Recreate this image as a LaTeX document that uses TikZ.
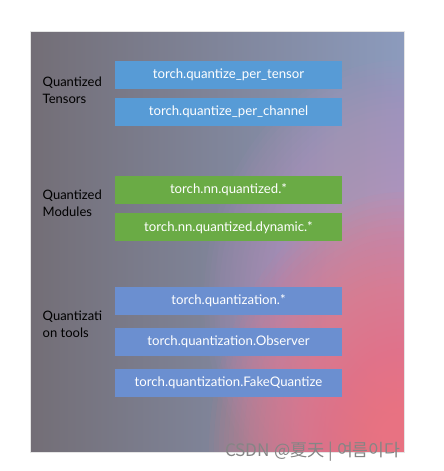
\documentclass[tikz,border=0pt]{standalone}
\usepackage{fontspec}
\setmainfont{Lato}
\newfontfamily\cjkfont{Noto Sans CJK SC}
\definecolor{bgLeft}{HTML}{736E76}
\definecolor{bgRight}{HTML}{8C9BBD}
\definecolor{glowPurple}{HTML}{C293C6}
\definecolor{glowPink}{HTML}{FA7282}
\definecolor{boxBlue}{HTML}{579BD6}
\definecolor{boxGreen}{HTML}{6AAB45}
\definecolor{boxTool}{HTML}{6B8FD0}
\definecolor{wmGray}{HTML}{858585}
\tikzset{
  fnbox/.style={minimum width=227pt, minimum height=28.5pt, inner sep=0pt,
    text=white, font=\fontsize{13.2}{15}\selectfont},
  tensorbox/.style={fnbox, fill=boxBlue},
  modulebox/.style={fnbox, fill=boxGreen},
  toolbox/.style={fnbox, fill=boxTool},
  grouplabel/.style={anchor=west, align=left, inner sep=0pt, text=black,
    font=\fontsize{13}{17.3}\selectfont}
}
\begin{document}
\begin{tikzpicture}[x=1pt,y=-1pt]
\useasboundingbox (0,0) rectangle (444,471);
\fill[white] (0,0) rectangle (444,471);
% background panel
\shade[left color=bgLeft, right color=bgRight] (30,31) rectangle (404,452);
\begin{scope}
  \clip (30,31) rectangle (404,452);
  \foreach \k in {1,...,40}{
    \fill[glowPurple, opacity=0.055] (404,300) ellipse [x radius={200*\k/40}, y radius={240*\k/40}];
  }
  \foreach \k in {1,...,40}{
    \fill[glowPink, opacity=0.055] (404,452) ellipse [x radius={195*\k/40}, y radius={260*\k/40}];
  }
\end{scope}
\draw[white!80!gray, line width=0.6pt] (30,31) rectangle (404,452);
% group labels
\node[grouplabel] (lt) at (42.5,90.4) {Quantized\\Tensors};
\node[grouplabel] (lm) at (42.5,203.5) {Quantized\\Modules};
\node[grouplabel] (lq) at (42.5,324.5) {Quantizati\\on tools};
% boxes
\node[tensorbox] (b1) at (228.5,74.9) {torch.quantize\_per\_tensor};
\node[tensorbox] (b2) at (228.5,112.2) {torch.quantize\_per\_channel};
\node[modulebox] (g1) at (228.5,189.9) {torch.nn.quantized.*};
\node[modulebox] (g2) at (228.5,227.2) {torch.nn.quantized.dynamic.*};
\node[toolbox] (t1) at (228.5,300.9) {torch.quantization.*};
\node[toolbox] (t2) at (228.5,342.2) {torch.quantization.Observer};
\node[toolbox] (t3) at (228.5,382.8) {torch.quantization.FakeQuantize};
% watermark
\node[anchor=base west, inner sep=0pt, text=wmGray, font=\cjkfont\fontsize{17.2}{20}\selectfont] (wm) at (225,456.5) {CSDN @夏天 | 여름이다};
\end{tikzpicture}
\end{document}
